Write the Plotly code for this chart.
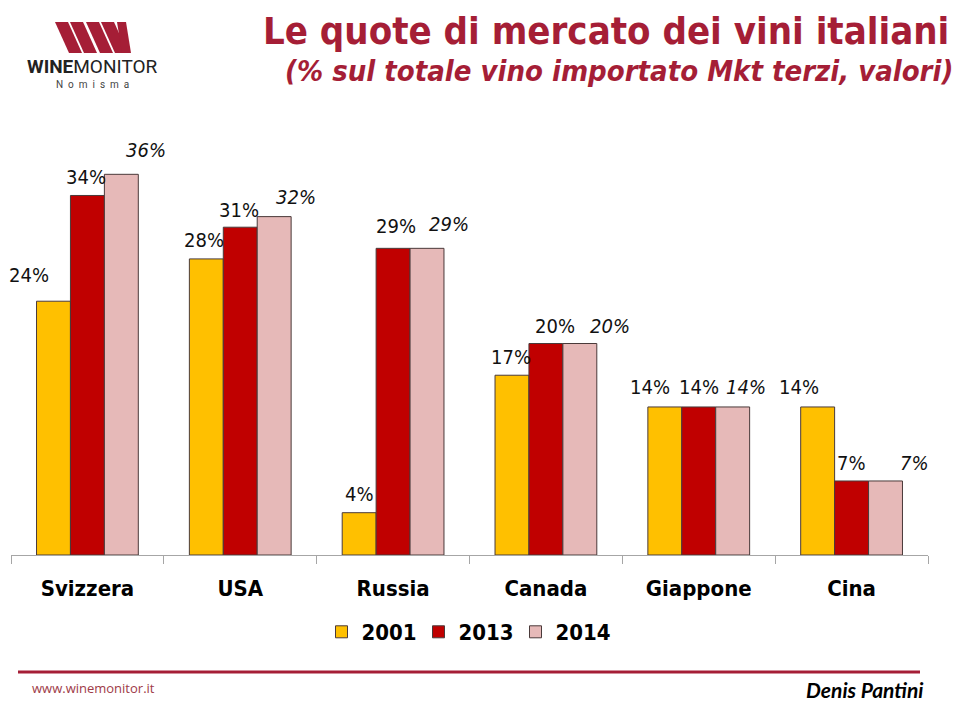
import plotly.graph_objects as go

# ---- data ----
categories = ["Svizzera", "USA", "Russia", "Canada", "Giappone", "Cina"]
years = ["2001", "2013", "2014"]
v2001 = [24, 28, 4, 17, 14, 14]
v2013 = [34, 31, 29, 20, 14, 7]
v2014 = [36, 32, 29, 20, 14, 7]
series = [v2001, v2013, v2014]

# ---- styles ----
colors = ["#FFC000", "#C00000", "#E6B9B8"]
label_dx = [
    [-24, -2, 0, -1, -15, -19],
    [-1, -1, 3, 9, 0, 0],
    [25, 22, 22, 30, 13, 29],
]
label_dy = [
    [26, 19, 19, 18, 20, 20],
    [18, 17, 22, 18, 20, 18],
    [24, 20, 24, 18, 20, 18],
]
COND = "DejaVu Sans Condensed, Liberation Sans Narrow, Roboto, sans-serif"
BRAND = "#A51E36"

OFF = 8  # page body margin
L, R, T, B = 11 - OFF, 32 + OFF, 150 - OFF, 148 + OFF
pw, ph = 960 - L - R, 703 - T - B


def px(x):
    return (x - OFF - L) / pw


def py(y):
    return ((703 - (y - OFF)) - B) / ph


fig = go.Figure()
for k, (yr, vals) in enumerate(zip(years, series)):
    fig.add_trace(go.Bar(
        name="<b>%s</b>" % yr, x=categories, y=vals,
        marker=dict(color=colors[k], line=dict(color="#4a3a3a", width=1)),
    ))

bargap = 0.334
w = (1 - bargap) / 3
annotations = []
for k, vals in enumerate(series):
    for i, v in enumerate(vals):
        annotations.append(dict(
            x=i + (k - 1) * w, y=v, xref="x", yref="y",
            text=("<i>%d%%</i>" % v) if k == 2 else "%d%%" % v,
            showarrow=False, xanchor="center", yanchor="middle",
            xshift=label_dx[k][i], yshift=label_dy[k][i],
            font=dict(family=COND, size=20, color="#111111"),
        ))


def paper_text(x, y, text, xanchor, size, color, family=COND):
    annotations.append(dict(
        x=px(x), y=py(y), xref="paper", yref="paper", text=text,
        showarrow=False, xanchor=xanchor, yanchor="middle",
        font=dict(family=family, size=size, color=color)))


paper_text(951, 31, "<b>Le quote di mercato dei vini italiani</b>", "right", 38, BRAND)
paper_text(955, 71, "<b><i>(% sul totale vino importato Mkt terzi, valori)</i></b>", "right", 29, BRAND)
paper_text(92, 67, "<b>WINE</b>MONITOR", "center", 19, "#222222", "Roboto, sans-serif")
paper_text(92, 85, "N  o  m  i  s  m  a", "center", 10, "#444444", "Roboto, sans-serif")
paper_text(30, 688, "www.winemonitor.it", "left", 13, "#9E3A48", "Open Sans, sans-serif")
paper_text(926, 689, "<b><i>Denis Pantini</i></b>", "right", 21, "#000000", "Lato, sans-serif")

shapes = [
    dict(type="line", xref="paper", yref="paper", x0=px(18), x1=px(920), y0=py(672), y1=py(672),
         line=dict(color=BRAND, width=3)),
]
# logo mark (slanted stripes)
stripes = [(55, 68), (70, 83), (86, 99), (101, 114)]
for x0, x1 in stripes:
    path = "M %f,%f L %f,%f L %f,%f L %f,%f Z" % (
        px(x0), py(22), px(x1), py(22), px(x1 + 14), py(53), px(x0 + 14), py(53))
    shapes.append(dict(type="path", xref="paper", yref="paper", path=path,
                       fillcolor=BRAND, line=dict(width=0)))
shapes.append(dict(type="path", xref="paper", yref="paper",
                   path="M %f,%f L %f,%f L %f,%f L %f,%f Z" % (
                       px(117), py(22), px(126), py(22), px(131), py(53), px(122), py(53)),
                   fillcolor=BRAND, line=dict(width=0)))

fig.update_layout(
    width=960, height=703,
    margin=dict(l=L, r=R, t=T, b=B, autoexpand=False),
    paper_bgcolor="white", plot_bgcolor="white",
    barmode="group", bargap=bargap, bargroupgap=0,
    showlegend=True,
    legend=dict(orientation="h", x=px(467), xanchor="center", y=py(632), yanchor="middle",
                font=dict(family=COND, size=22, color="#000000"),
                itemwidth=30, entrywidth=52, entrywidthmode="pixels", traceorder="normal"),
    xaxis=dict(showline=True, linecolor="#A6A6A6", linewidth=1,
               range=[-0.5, 5.5], autorange=False,
               ticks="outside", tickson="boundaries", ticklen=8, tickcolor="#A6A6A6",
               ticklabelstandoff=14, automargin=False,
               tickprefix="<b>", ticksuffix="</b>",
               tickfont=dict(family=COND, size=22, color="#000000"),
               showgrid=False, zeroline=False),
    yaxis=dict(visible=False, range=[0, 38.3], showgrid=False, zeroline=False, automargin=False),
    annotations=annotations,
    shapes=shapes,
)
fig.write_html("out.html")
